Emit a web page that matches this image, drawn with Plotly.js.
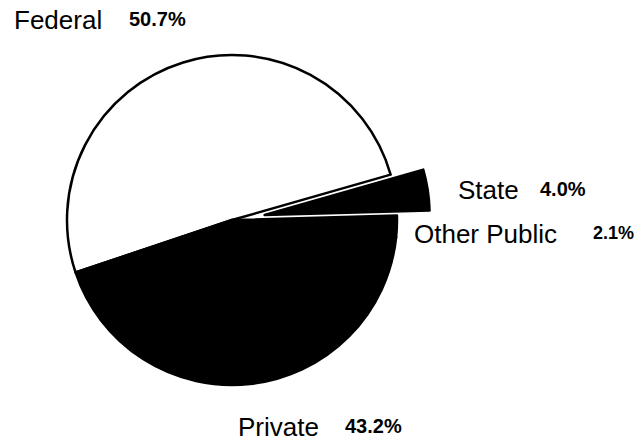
<!DOCTYPE html>
<html>
<head>
<meta charset="utf-8">
<script src="https://cdn.plot.ly/plotly-3.0.1.min.js"></script>
<style>html,body{margin:0;padding:0;background:#fff;}#chart{width:638px;height:441px;}</style>
</head>
<body>
<div id="chart"></div>
<script>
const categories = ["Federal", "Private", "Other Public", "State"];
const shares = [50.7, 43.2, 2.1, 4.0];
const shareLabels = ["50.7%", "43.2%", "2.1%", "4.0%"];

const colors = ["#ffffff", "#000000", "#000000", "#000000"];
const pulls = [0, 0, 0, 0.2];

// label layout in pixels: [name x, percent x, y, percent font size]
const labelPos = {
  "Federal": [12, 127, 20, 20],
  "Private": [236, 343, 427, 20],
  "Other Public": [412, 591, 234, 18],
  "State": [456, 538, 190, 20]
};

const annotations = [];
categories.forEach((c, i) => {
  const p = labelPos[c];
  annotations.push({
    xref: "paper", yref: "paper", x: p[0] / 638, y: 1 - p[2] / 441,
    xanchor: "left", yanchor: "middle", showarrow: false,
    text: c,
    font: {family: "Liberation Sans, Arial, sans-serif", size: 26, color: "#000"}
  });
  annotations.push({
    xref: "paper", yref: "paper", x: p[1] / 638, y: 1 - (p[2] - 1) / 441,
    xanchor: "left", yanchor: "middle", showarrow: false,
    text: "<b>" + shareLabels[i] + "</b>",
    font: {family: "Liberation Sans, Arial, sans-serif", size: p[3], color: "#000"}
  });
});

const trace = {
  type: "pie",
  labels: categories,
  values: shares,
  sort: false,
  direction: "counterclockwise",
  rotation: -108.5,
  pull: pulls,
  textinfo: "none",
  hoverinfo: "none",
  marker: {colors: colors, line: {color: "#000", width: 2.5}},
  domain: {x: [0.0533, 0.674], y: [0.052, 0.950]},
  showlegend: false
};

Plotly.newPlot("chart", [trace], {
  width: 638, height: 441,
  margin: {l: 0, r: 0, t: 0, b: 0},
  paper_bgcolor: "#fff", plot_bgcolor: "#fff",
  showlegend: false,
  annotations: annotations
}, {staticPlot: true});
</script>
</body>
</html>
